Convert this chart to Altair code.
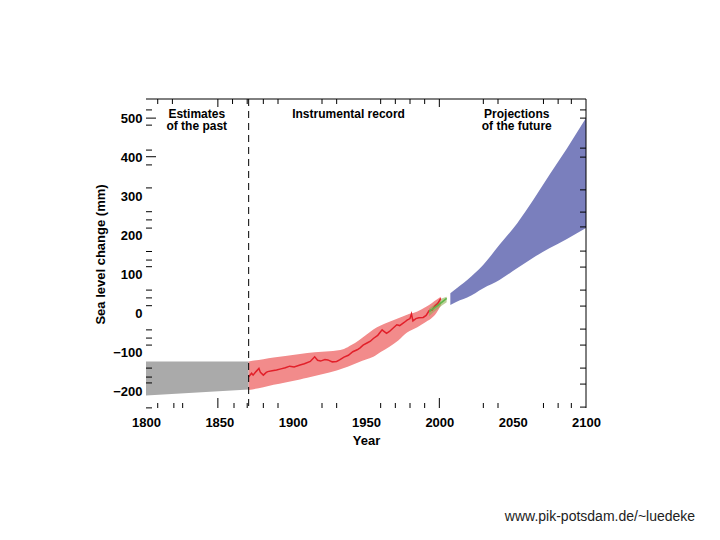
import altair as alt
import pandas as pd

# ---------------- data ----------------
# Estimates of the past (grey band)
past_years = [1800, 1870]
past_hi = [-122, -122]
past_lo = [-209, -194]

# Instrumental record: uncertainty band
band_years = [1870, 1880, 1887, 1895, 1905, 1910, 1920, 1930, 1935, 1940, 1945,
              1950, 1955, 1960, 1966, 1972, 1978, 1985, 1991, 1995, 1998, 2001]
band_hi = [-122, -116, -112, -108, -103, -100, -97, -94, -90, -80, -68,
           -54, -40, -30, -20, -11, -2, 6, 18, 28, 36, 44]
band_lo = [-195, -188, -182, -176, -168, -164, -155, -145, -139, -132, -124,
           -117, -110, -98, -84, -68, -48, -34, -20, -10, 2, 22]

# Instrumental record: tide gauge line
tg_years = [1870, 1872, 1873, 1875, 1877, 1878, 1880, 1882, 1883, 1886, 1889, 1892,
            1895, 1898, 1901, 1905, 1908, 1912, 1915, 1917, 1919, 1922, 1924, 1927,
            1930, 1932, 1935, 1938, 1941, 1944, 1946, 1948, 1951, 1953, 1955, 1958,
            1961, 1962, 1964, 1966, 1968, 1971, 1973, 1976, 1978, 1980, 1981, 1982,
            1984, 1986, 1989, 1991, 1993, 1995, 1997, 1999, 2001]
tg_vals = [-161, -152, -157, -148, -140, -150, -157, -150, -148, -146, -144, -141,
           -138, -134, -136, -131, -128, -122, -110, -119, -121, -117, -118, -123,
           -122, -118, -111, -106, -97, -92, -87, -80, -74, -70, -63, -55,
           -41, -44, -50, -45, -38, -28, -30, -22, -16, -12, 0, -18,
           -12, -10, -9, -4, 8, 10, 20, 27, 40]

# Satellite altimetry (green line and its band)
sat_years = [1993, 1996, 1999, 2002, 2005]
sat_vals = [6, 14, 22, 31, 40]
sat_band_hi = [14, 22, 31, 40, 44]
sat_band_lo = [-6, 4, 13, 22, 30]

# Projections of the future (blue band)
proj_years = [2007.5, 2014, 2019, 2030, 2041, 2053, 2064, 2075, 2087, 2100]
proj_hi = [53, 72, 87, 126, 177, 232, 292, 356, 424, 502]
proj_lo = [23, 35, 42, 66, 87, 117, 144, 168, 192, 220]

# axis labels and tick marks
x_labels = [1800, 1850, 1900, 1950, 2000, 2050, 2100]
y_labels = [-200, -100, 0, 100, 200, 300, 400, 500]
x_top_ticks = [1808, 1818, 1859, 1869, 1880, 1890, 1920, 1930, 1960, 1970, 1980,
               1990, 2030, 2040, 2071, 2081, 2090]
x_top_major = [1849, 2000]
x_bot_ticks = [1808, 1819, 1825, 1860, 1869, 1880, 1890, 1920, 1930, 1960, 1970,
               1980, 1990, 2030, 2040, 2071, 2081, 2090]
x_bot_major = [1849, 2000]
y_left_ticks = [523, 484, 420, 382, 323, 262, 241, 220, 160, 138, 121, 61, 41, 21,
                -41, -62, -80, -139, -162, -177, -241]
y_left_major = [502, 403]
y_right_ticks = [523, 502, 425, 402, 318, 261, 223, 161, 120, 61, 20, -39, -80,
                 -139, -180, -239]

period_years = [1834.6, 1938.1, 2052.8]
period_texts = ["Estimates\nof the past", "Instrumental record", "Projections\nof the future"]
boundary_year = [1870]
footer = "www.pik-potsdam.de/~luedeke"

# ---------------- chart ----------------
W, H = 440, 309
FONT = "Liberation Sans"

xs = alt.Scale(domain=[1800, 2100], nice=False, zero=False)
ys = alt.Scale(domain=[-241.3, 551], nice=False, zero=False)

xaxis = alt.Axis(values=x_labels, format="d", tickSize=0, domain=False, grid=False,
                 labelFlush=False, labelOverlap=False, labelPadding=8,
                 labelFont=FONT, labelFontSize=13, labelFontWeight="bold",
                 labelColor="black", title="Year", titleFont=FONT,
                 titleFontSize=13, titleFontWeight="bold", titleColor="black",
                 titleY=36, titleBaseline="alphabetic")
yaxis = alt.Axis(values=y_labels, format="d", tickSize=0, domain=False, grid=False,
                 labelFlush=False, labelOverlap=False, labelPadding=4,
                 labelFont=FONT, labelFontSize=13, labelFontWeight="bold",
                 labelColor="black", title="Sea level change (mm)", titleFont=FONT,
                 titleFontSize=13, titleFontWeight="bold", titleColor="black",
                 titleX=-42, titleY=155, titleBaseline="alphabetic")

X = alt.X("year:Q", scale=xs, axis=xaxis)
Y = alt.Y("mm:Q", scale=ys, axis=yaxis)

past_df = pd.DataFrame({"year": past_years, "mm": past_lo, "mm2": past_hi})
band_df = pd.DataFrame({"year": band_years, "mm": band_lo, "mm2": band_hi})
tg_df = pd.DataFrame({"year": tg_years, "mm": tg_vals})
satb_df = pd.DataFrame({"year": sat_years, "mm": sat_band_lo, "mm2": sat_band_hi})
sat_df = pd.DataFrame({"year": sat_years, "mm": sat_vals})
proj_df = pd.DataFrame({"year": proj_years, "mm": proj_lo, "mm2": proj_hi})

past = alt.Chart(past_df).mark_area(color="#aaaaaa", opacity=1).encode(
    x=X, y=Y, y2="mm2:Q")
band = alt.Chart(band_df).mark_area(color="#f28b8b", opacity=1,
                                    interpolate="monotone").encode(x=X, y=Y, y2="mm2:Q")
satband = alt.Chart(satb_df).mark_area(color="#8fae55", opacity=0.6).encode(
    x=X, y=Y, y2="mm2:Q")
tg = alt.Chart(tg_df).mark_line(color="#e2202a", strokeWidth=1.5).encode(x=X, y=Y)
sat = alt.Chart(sat_df).mark_line(color="#5cb848", strokeWidth=1.6).encode(x=X, y=Y)
proj = alt.Chart(proj_df).mark_area(color="#7a7fbd", opacity=1,
                                    interpolate="monotone").encode(x=X, y=Y, y2="mm2:Q")

boundary = alt.Chart(pd.DataFrame({"year": boundary_year})).mark_rule(
    color="black", strokeWidth=1, strokeDash=[7, 5]).encode(
    x=X, y=alt.value(0), y2=alt.value(H))

def xticks(vals, top, length):
    df = pd.DataFrame({"year": vals})
    if top:
        yy, yy2 = alt.value(0), alt.value(length)
    else:
        yy, yy2 = alt.value(H), alt.value(H - length)
    return alt.Chart(df).mark_rule(color="black", strokeWidth=1).encode(
        x=X, y=yy, y2=yy2)

def yticks(vals, right, length):
    df = pd.DataFrame({"mm": vals})
    if right:
        xx, xx2 = alt.value(W), alt.value(W - length)
    else:
        xx, xx2 = alt.value(0), alt.value(length)
    return alt.Chart(df).mark_rule(color="black", strokeWidth=1).encode(
        y=Y, x=xx, x2=xx2)

frame_top = alt.Chart(pd.DataFrame({"k": [0]})).mark_rule(color="black", strokeWidth=1).encode(
    x=alt.value(0), x2=alt.value(W), y=alt.value(0))
frame_right = alt.Chart(pd.DataFrame({"k": [0]})).mark_rule(color="black", strokeWidth=1).encode(
    x=alt.value(W), y=alt.value(0), y2=alt.value(H))

periods = alt.Chart(pd.DataFrame({"year": period_years, "t": period_texts})).mark_text(
    font=FONT, fontSize=12, fontWeight="bold", color="black", align="center",
    baseline="alphabetic", lineBreak="\n", lineHeight=12.5).encode(
    x=X, y=alt.value(18.5), text="t:N")

foot = alt.Chart(pd.DataFrame({"t": [footer]})).mark_text(
    font=FONT, fontSize=14, color="#222222", align="center", baseline="middle").encode(
    x=alt.value(454), y=alt.value(418), text="t:N")

chart = alt.layer(
    past, band, satband, tg, sat, proj, boundary,
    xticks(x_top_ticks, True, 5), xticks(x_top_major, True, 8),
    xticks(x_bot_ticks, False, 5), xticks(x_bot_major, False, 10),
    yticks(y_left_ticks, False, 6), yticks(y_left_major, False, 10),
    yticks(y_right_ticks, True, 6),
    frame_top, frame_right, periods, foot,
).properties(
    width=W, height=H,
    padding={"left": 138, "top": 91, "right": 126, "bottom": 124},
    autosize=alt.AutoSizeParams(type="none"),
    background="white",
).configure_view(stroke=None)

chart.save("out.html", embed_options={"renderer": "svg", "actions": False})
